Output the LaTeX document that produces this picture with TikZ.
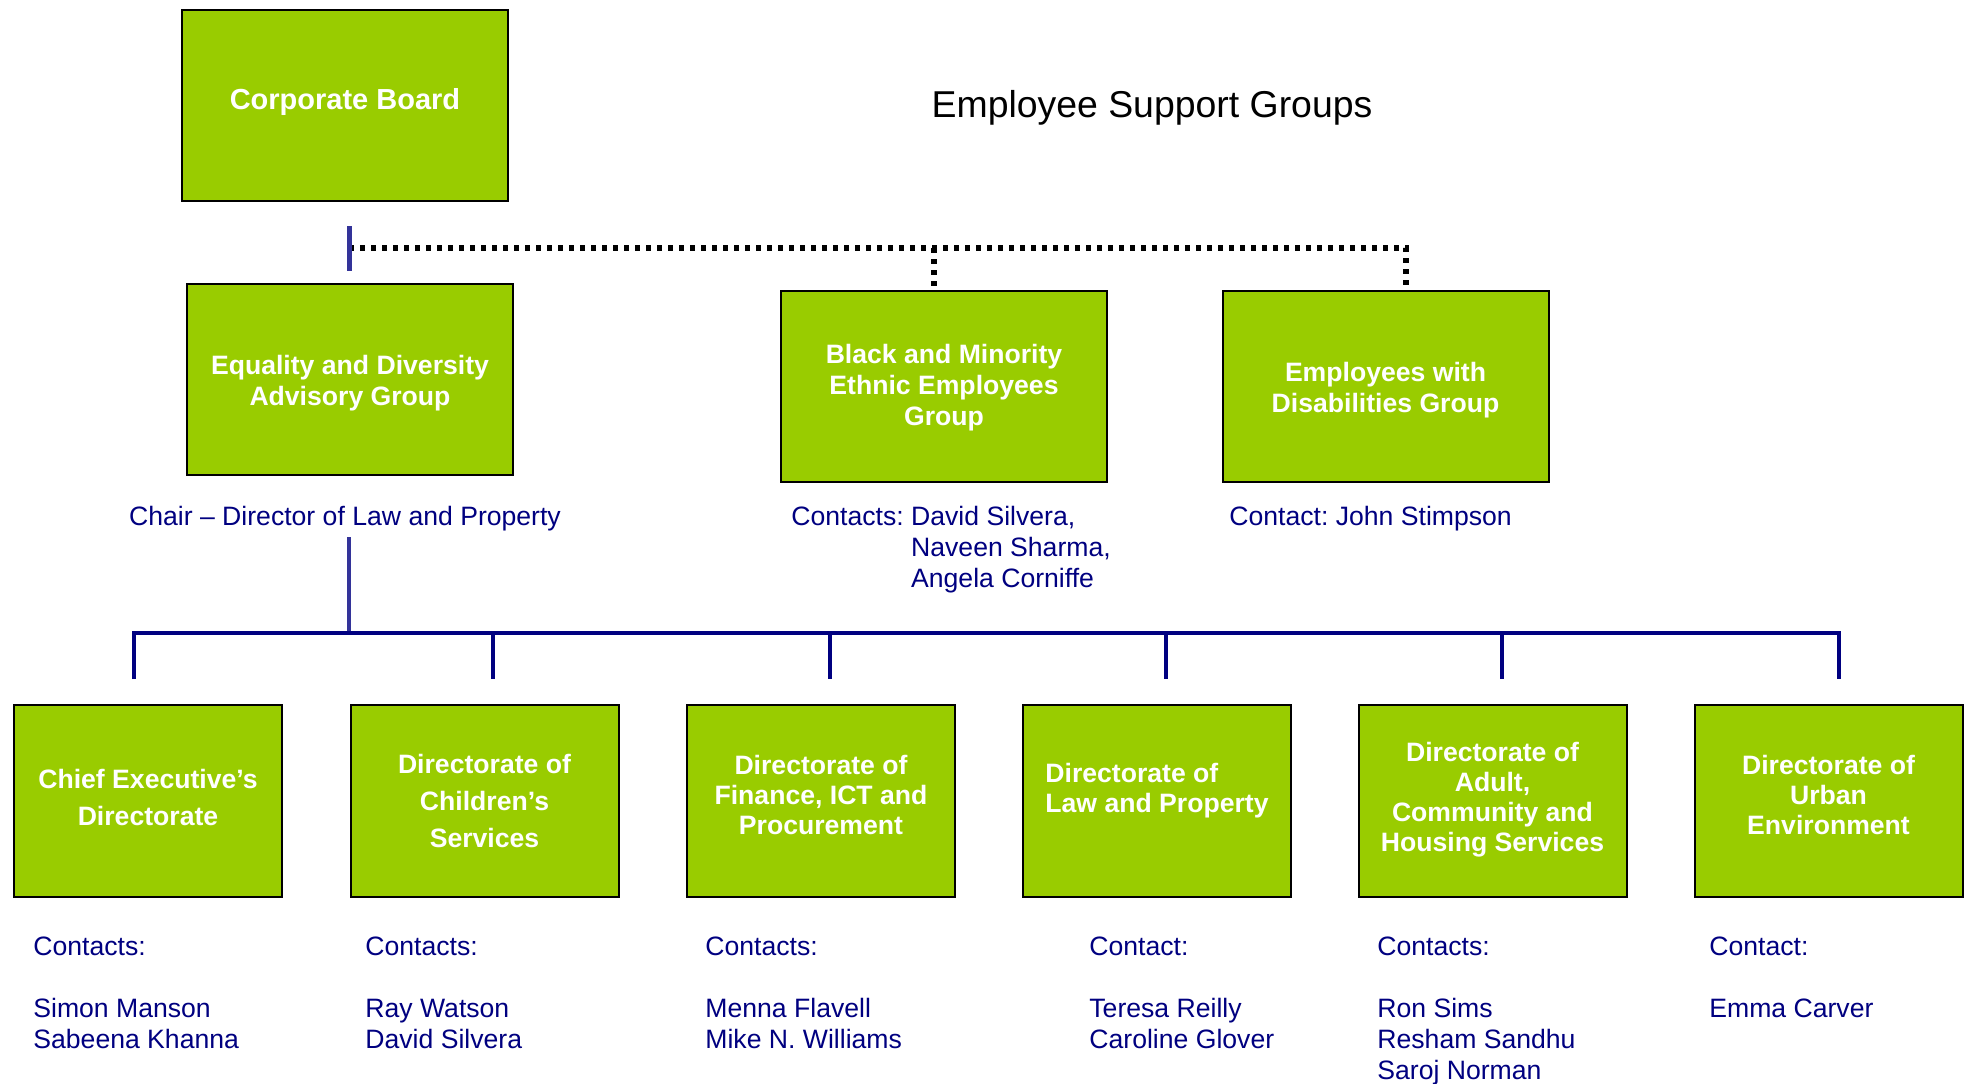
\documentclass[tikz,border=0pt]{standalone}
\usepackage{fontspec}
\setmainfont{Liberation Sans}
\usetikzlibrary{positioning}

\definecolor{boxgreen}{RGB}{153,204,0}
\definecolor{navy}{RGB}{0,0,128}
\definecolor{barblue}{RGB}{51,51,153}

\tikzset{
  unit/.style={draw=black, line width=1pt, fill=boxgreen, inner sep=0pt},
  topunit/.style={unit, minimum width=163pt, minimum height=95.5pt},
  dirunit/.style={unit, minimum width=134pt, minimum height=96pt},
  unittext/.style={text=white, font=\fontsize{13.3}{15.5}\selectfont\bfseries, align=center, inner sep=0pt},
  dirtext/.style={unittext, font=\fontsize{13.3}{15}\selectfont\bfseries},
  widetext/.style={unittext, font=\fontsize{13.3}{18.5}\selectfont\bfseries},
  contact/.style={text=navy, font=\fontsize{13.3}{15.5}\selectfont\frenchspacing, inner sep=0pt, align=left},
  busline/.style={draw=navy, line width=2.2pt},
  barline/.style={draw=barblue, line width=2.5pt},
  dotline/.style={draw=black, line width=2.6pt, dash pattern=on 2.6pt off 2.9pt}
}

\begin{document}
\begin{tikzpicture}[x=0.5pt, y=-0.5pt]
  \useasboundingbox (0,0) rectangle (1968,1083);

  % Title
  \node[font=\fontsize{18.7}{22}\selectfont, anchor=base] (title) at (1152,117) {Employee Support Groups};

  % Board and groups
  \node[topunit] (board) at (345,105.5) {};
  \node[topunit] (eda) at (350,379) {};
  \node[topunit] (bme) at (944,386) {};
  \node[topunit] (ewd) at (1385.5,386) {};
  \node[unittext, font=\fontsize{14.5}{17}\selectfont\bfseries] (boardText) at ([yshift=2pt]board.center) {Corporate Board};
  \node[unittext] (edaText) at ([yshift=-2pt]eda.center) {Equality and Diversity\\Advisory Group};
  \node[unittext] (bmeText) at ([yshift=-1pt]bme.center) {Black and Minority\\Ethnic Employees\\Group};
  \node[unittext] (ewdText) at ([yshift=-2.2pt]ewd.center) {Employees with\\Disabilities Group};

  % Captions under the groups
  \node[contact, anchor=base] (chair) at (345,525) {Chair – Director of Law and Property};
  \node[contact, anchor=north west] (bmeContacts) at (791,505.5)
    {Contacts: David Silvera,\\\hphantom{Contacts: }Naveen Sharma,\\\hphantom{Contacts: }Angela Corniffe};
  \node[contact, anchor=base west] (ewdContact) at (1229,525) {Contact: John Stimpson};

  % Directorates
  \node[dirunit] (chief) at (148,801) {};
  \node[dirunit] (children) at (484.5,801) {};
  \node[dirunit] (finance) at (821,801) {};
  \node[dirunit] (law) at (1157,801) {};
  \node[dirunit] (adult) at (1492.5,801) {};
  \node[dirunit] (urban) at (1828.5,801) {};
  \node[widetext] (chiefText) at ([yshift=2pt]chief.center) {Chief Executive’s\\Directorate};
  \node[widetext] (childrenText) at (children.center) {Directorate of\\Children’s\\Services};
  \node[dirtext] (financeText) at ([yshift=3pt]finance.center) {Directorate of\\Finance, ICT and\\Procurement};
  \node[dirtext, align=left] (lawText) at ([yshift=5pt]law.center) {Directorate of\\Law and Property};
  \node[dirtext] (adultText) at ([yshift=0.5pt]adult.center) {Directorate of\\Adult,\\Community and\\Housing Services};
  \node[dirtext] (urbanText) at ([yshift=3pt]urban.center) {Directorate of\\Urban\\Environment};

  % Contacts of the directorates
  \node[contact, anchor=north west] (chiefContacts) at (33,937) {Contacts:\\[15.5pt]Simon Manson\\Sabeena Khanna};
  \node[contact, anchor=north west] (childrenContacts) at (365,937) {Contacts:\\[15.5pt]Ray Watson\\David Silvera};
  \node[contact, anchor=north west] (financeContacts) at (705,937) {Contacts:\\[15.5pt]Menna Flavell\\Mike N. Williams};
  \node[contact, anchor=north west] (lawContacts) at (1089,937) {Contact:\\[15.5pt]Teresa Reilly\\Caroline Glover};
  \node[contact, anchor=north west] (adultContacts) at (1377,937) {Contacts:\\[15.5pt]Ron Sims\\Resham Sandhu\\Saroj Norman};
  \node[contact, anchor=north west] (urbanContacts) at (1709,937) {Contact:\\[15.5pt]Emma Carver};

  % Board link and dotted links to the groups
  \coordinate (barTop) at (349,226);
  \coordinate (barBot) at (349,271);
  \coordinate (dotStart) at (349,248);
  \coordinate (bmeDrop) at (934,248);
  \coordinate (ewdDrop) at (1406,248);
  \draw[dotline] (dotStart) -- (ewdDrop) -- (ewdDrop |- ewd.north);
  \draw[dotline] (bmeDrop) -- (bmeDrop |- bme.north);
  \draw[barline] (barTop) -- (barBot);

  % Bus to the directorates
  \coordinate (chairDrop) at (349,537);
  \coordinate (busMid) at (349,633);
  \draw[barline, line width=2pt] (chairDrop) -- (busMid);
  \foreach \x [count=\i] in {134,493,830,1166,1502,1839}
    \coordinate (tap\i) at (\x,679);
  \draw[busline] (tap1) -- (tap1 |- busMid) -- (tap6 |- busMid) -- (tap6);
  \foreach \i in {2,...,5}
    \draw[busline] (tap\i |- busMid) -- (tap\i);
\end{tikzpicture}
\end{document}
